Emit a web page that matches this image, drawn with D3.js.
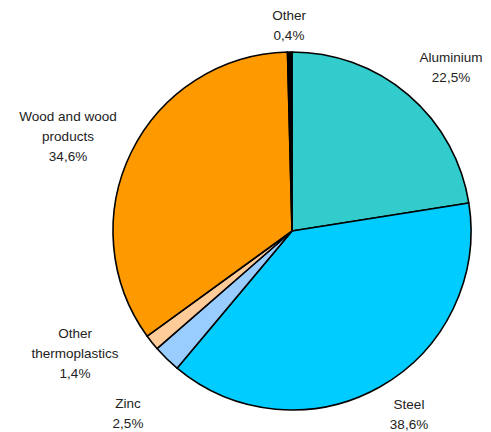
<!DOCTYPE html>
<html>
<head>
<meta charset="utf-8">
<script src="https://cdn.jsdelivr.net/npm/d3@7"></script>
<style>
  body { margin: 0; background: #fff; }
  text { font-family: "Liberation Sans", Arial, sans-serif; font-size: 13.5px; fill: #222; }
</style>
</head>
<body>
<svg id="chart" width="491" height="432"></svg>
<script>
// clockwise from 12 o'clock
const categories = ['Aluminium', 'Steel', 'Zinc', 'Other thermoplastics', 'Wood and wood products', 'Other'];
const values = [22.5, 38.6, 2.5, 1.4, 34.6, 0.4];
const colors = ['#33CCCC', '#00CCFF', '#99CCFF', '#FFCC99', '#FF9900', '#000000'];
const labelLines = [['Aluminium'], ['Steel'], ['Zinc'], ['Other', 'thermoplastics'], ['Wood and wood', 'products'], ['Other']];
const labelPos = [[451, 57], [409, 404], [128, 403], [75, 333], [68, 116], [289, 15]];

const svg = d3.select('#chart');
const cx = 292, cy = 231, r = 179;

const pie = d3.pie().sort(null).value(d => d);
const arc = d3.arc().innerRadius(0).outerRadius(r);
const fmt = v => d3.format('.1f')(v).replace('.', ',') + '%';

const g = svg.append('g').attr('transform', `translate(${cx},${cy})`);
g.selectAll('path')
  .data(pie(values))
  .join('path')
  .attr('d', arc)
  .attr('fill', (d, i) => colors[i])
  .attr('stroke', '#000')
  .attr('stroke-width', 1.6)
  .attr('stroke-linejoin', 'round');

const lab = svg.selectAll('g.lab')
  .data(categories)
  .join('g')
  .attr('class', 'lab')
  .attr('transform', (d, i) => `translate(${labelPos[i][0]},${labelPos[i][1]})`);

lab.append('text')
  .attr('text-anchor', 'middle')
  .each(function(d, i) {
    const t = d3.select(this);
    const lines = labelLines[i].concat([fmt(values[i])]);
    lines.forEach((l, j) => {
      t.append('tspan').attr('x', 0).attr('y', j * 20).attr('dy', '0.35em').text(l);
    });
  });
</script>
</body>
</html>
